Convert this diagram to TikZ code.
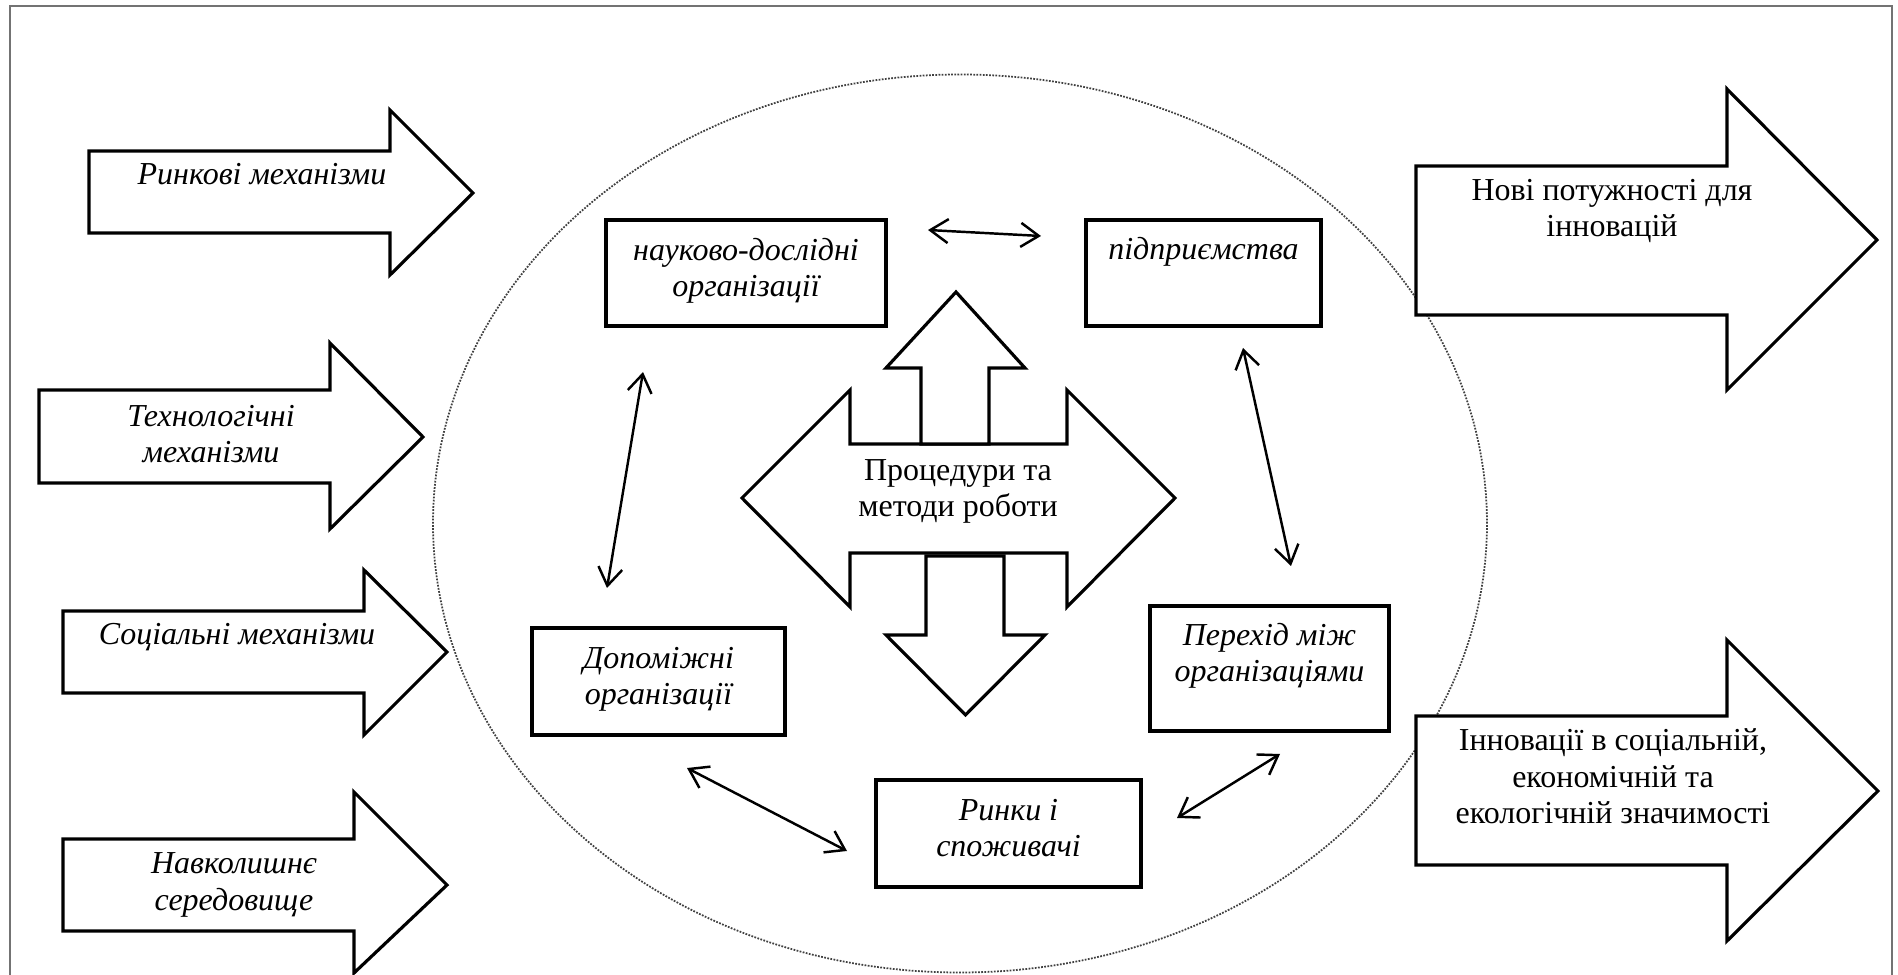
\documentclass[tikz,border=0pt]{standalone}
\usepackage{fontspec}
\setmainfont{Liberation Serif}
\usetikzlibrary{arrows.meta, calc, positioning}

\tikzset{
  bigarrow/.style={draw, fill=white, line width=0.9pt, line join=miter},
  orgbox/.style={draw, fill=white, line width=0.9pt, inner sep=0pt, outer sep=0pt},
  lbl/.style={font=\fontsize{9.1}{10.5}\selectfont, align=center, anchor=base, inner sep=0pt},
  ilbl/.style={lbl, font=\fontsize{9.1}{10.5}\selectfont\itshape},
  link/.style={<->, line width=0.7pt},
}

\begin{document}
\begin{tikzpicture}[>={Straight Barb[length=1.8mm, width=2.4mm]}]

  \useasboundingbox (0,0) rectangle (18.98,9.75);

  % frame
  \draw[black!55, line width=0.8pt] (0.10,0) -- (0.10,9.69) -- (18.92,9.69) -- (18.92,0);

  % dotted ellipse
  \draw[black!75, line width=0.5pt, dash pattern=on 0.5pt off 0.4pt]
    (9.60,4.515) ellipse [x radius=5.27, y radius=4.49];

  % input arrows
  \draw[bigarrow] (0.89,8.24) -- (3.90,8.24) -- (3.90,8.65) -- (4.73,7.82) -- (3.90,7.00) -- (3.90,7.42) -- (0.89,7.42) -- cycle;
  \draw[bigarrow] (0.39,5.85) -- (3.30,5.85) -- (3.30,6.32) -- (4.23,5.38) -- (3.30,4.46) -- (3.30,4.92) -- (0.39,4.92) -- cycle;
  \draw[bigarrow] (0.63,3.64) -- (3.64,3.64) -- (3.64,4.05) -- (4.47,3.23) -- (3.64,2.40) -- (3.64,2.82) -- (0.63,2.82) -- cycle;
  \draw[bigarrow] (0.63,1.36) -- (3.54,1.36) -- (3.54,1.83) -- (4.47,0.90) -- (3.54,0.02) -- (3.54,0.44) -- (0.63,0.44) -- cycle;

  \node[ilbl] (in-market) at (2.62,7.90) {Ринкові механізми};
  \node[ilbl] (in-tech) at (2.11,5.12) {Технологічні\\механізми};
  \node[ilbl] (in-social) at (2.37,3.30) {Соціальні механізми};
  \node[ilbl] (in-env) at (2.34,0.65) {Навколишнє\\середовище};

  % output arrows
  \draw[bigarrow] (14.16,8.09) -- (17.27,8.09) -- (17.27,8.86) -- (18.77,7.35) -- (17.27,5.85) -- (17.27,6.60) -- (14.16,6.60) -- cycle;
  \draw[bigarrow] (14.16,2.59) -- (17.27,2.59) -- (17.27,3.35) -- (18.78,1.84) -- (17.27,0.34) -- (17.27,1.10) -- (14.16,1.10) -- cycle;

  \node[lbl] (out-power) at (16.12,7.38) {Нові потужності для\\інновацій};
  \node[lbl] (out-innov) at (16.13,1.51) {Інновації в соціальній,\\економічній та\\екологічній значимості};

  % central cross of arrows
  \draw[bigarrow] (7.42,4.77) -- (8.50,5.85) -- (8.50,5.31) -- (10.67,5.31) -- (10.67,5.85) -- (11.75,4.77)
    -- (10.67,3.68) -- (10.67,4.22) -- (8.50,4.22) -- (8.50,3.68) -- cycle;
  \draw[bigarrow] (9.21,5.31) -- (9.21,6.07) -- (8.86,6.07) -- (9.56,6.83) -- (10.25,6.07) -- (9.89,6.07) -- (9.89,5.31) -- cycle;
  \draw[bigarrow] (9.26,4.19) -- (10.04,4.19) -- (10.04,3.40) -- (10.45,3.40) -- (9.655,2.60) -- (8.86,3.40) -- (9.26,3.40) -- cycle;

  \node[lbl] (proc) at (9.58,4.58) {Процедури та\\методи роботи};

  % organisations
  \node[orgbox, minimum width=2.80cm, minimum height=1.06cm] (rd) at (7.46,7.02) {};
  \node[orgbox, minimum width=2.35cm, minimum height=1.06cm] (pidpr) at (12.035,7.02) {};
  \node[orgbox, minimum width=2.53cm, minimum height=1.07cm] (dop) at (6.585,2.935) {};
  \node[orgbox, minimum width=2.39cm, minimum height=1.25cm] (perekhid) at (12.695,3.065) {};
  \node[orgbox, minimum width=2.65cm, minimum height=1.07cm] (rynky) at (10.085,1.415) {};

  \node[ilbl] (rd-t) at ([yshift=-0.77cm]rd.north) {науково-дослідні\\організації};
  \node[ilbl] (pidpr-t) at ([yshift=-0.40cm]pidpr.north) {підприємства};
  \node[ilbl] (dop-t) at ([yshift=-0.77cm]dop.north) {Допоміжні\\організації};
  \node[ilbl] (perekhid-t) at ([yshift=-0.76cm]perekhid.north) {Перехід між\\організаціями};
  \node[ilbl] (rynky-t) at ([yshift=-0.77cm]rynky.north) {Ринки і\\споживачі};

  % links
  \draw[link] ($(rd.north east)+(0.42,-0.10)$) -- ($(pidpr.north west)+(-0.45,-0.16)$);
  \draw[link] ($(rd.south west)+(0.37,-0.46)$) -- ($(dop.north west)+(0.75,0.40)$);
  \draw[link] ($(pidpr.south)+(0.395,-0.22)$) -- ($(perekhid.north)+(0.215,0.40)$);
  \draw[link] ($(dop.south)+(0.285,-0.33)$) -- ($(rynky.west)+(-0.29,-0.175)$);
  \draw[link] ($(rynky.east)+(0.36,0.155)$) -- ($(perekhid.south)+(0.105,-0.23)$);

\end{tikzpicture}
\end{document}
